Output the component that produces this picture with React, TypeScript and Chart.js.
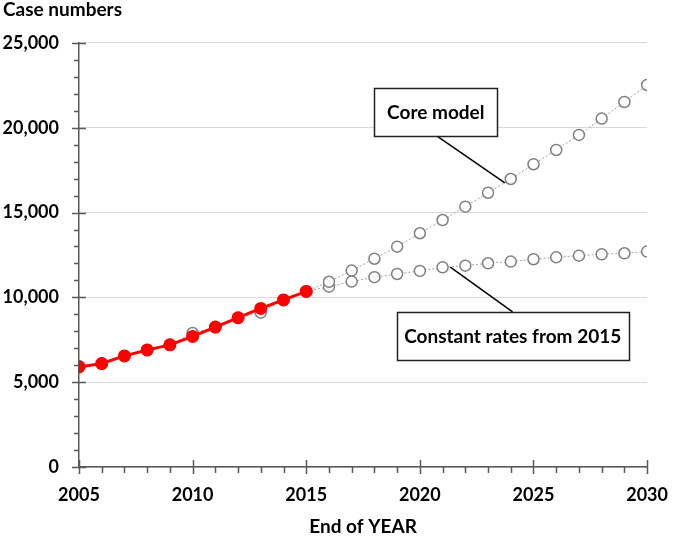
import React, { useEffect, useRef } from "react";
import { Chart, registerables } from "chart.js";

Chart.register(...registerables);

const observedYears = [2005, 2006, 2007, 2008, 2009, 2010, 2011, 2012, 2013, 2014, 2015];
const observedValues = [5900, 6100, 6550, 6900, 7200, 7700, 8250, 8800, 9350, 9850, 10350];

const coreYears = [2005, 2006, 2007, 2008, 2009, 2010, 2011, 2012, 2013, 2014, 2015, 2016, 2017, 2018, 2019, 2020, 2021, 2022, 2023, 2024, 2025, 2026, 2027, 2028, 2029, 2030];
const coreValues = [5950, 6100, 6550, 6900, 7200, 7900, 8250, 8800, 9100, 9850, 10350, 10920, 11580, 12280, 12990, 13780, 14560, 15350, 16170, 16980, 17850, 18690, 19580, 20540, 21520, 22520];

const constantYears = [2015, 2016, 2017, 2018, 2019, 2020, 2021, 2022, 2023, 2024, 2025, 2026, 2027, 2028, 2029, 2030];
const constantValues = [10350, 10630, 10930, 11190, 11380, 11560, 11770, 11870, 12010, 12110, 12250, 12360, 12460, 12540, 12600, 12700];

const yTickStep = 5000;
const xTickStep = 5;

const FONT = "Lato, 'Open Sans', 'DejaVu Sans', sans-serif";

const annotations = [
  { text: "Core model", box: [2018.0, 22350, 2023.4, 19520], from: [2020.74, 19520], to: [2023.74, 16745] },
  { text: "Constant rates from 2015", box: [2018.98, 9140, 2029.19, 6310], from: [2024.08, 9140], to: [2021.34, 11790] },
];

const toPoints = (xs: number[], ys: number[]) => xs.map((x, i) => ({ x, y: ys[i] }));

const tickMarksPlugin = {
  id: "tickMarks",
  afterDraw(chart: any) {
    const { ctx, scales } = chart;
    const xs = scales.x;
    const ys = scales.y;
    const area = chart.chartArea;
    ctx.save();
    ctx.strokeStyle = "#595959";
    ctx.lineWidth = 1.5;
    ctx.beginPath();
    for (let v = ys.min; v <= ys.max; v += 1000) {
      const y = Math.round(ys.getPixelForValue(v)) + 0.5;
      const major = v % yTickStep === 0;
      ctx.moveTo(area.left - (major ? 7 : 5), y);
      ctx.lineTo(area.left + (major ? 7 : 0), y);
    }
    for (let v = xs.min; v <= xs.max; v += 1) {
      const x = Math.round(xs.getPixelForValue(v)) + 0.5;
      const major = (v - xs.min) % xTickStep === 0;
      ctx.moveTo(x, area.bottom - (major ? 7 : 0));
      ctx.lineTo(x, area.bottom + (major ? 7 : 6));
    }
    ctx.stroke();
    ctx.restore();
  },
};

const annotationPlugin = {
  id: "boxAnnotations",
  afterDatasetsDraw(chart: any) {
    const { ctx, scales } = chart;
    const xs = scales.x;
    const ys = scales.y;
    ctx.save();
    for (const a of annotations) {
      ctx.strokeStyle = "#000";
      ctx.lineWidth = 1.5;
      ctx.beginPath();
      ctx.moveTo(xs.getPixelForValue(a.from[0]), ys.getPixelForValue(a.from[1]));
      ctx.lineTo(xs.getPixelForValue(a.to[0]), ys.getPixelForValue(a.to[1]));
      ctx.stroke();
      const x1 = xs.getPixelForValue(a.box[0]);
      const y1 = ys.getPixelForValue(a.box[1]);
      const x2 = xs.getPixelForValue(a.box[2]);
      const y2 = ys.getPixelForValue(a.box[3]);
      ctx.fillStyle = "#fff";
      ctx.fillRect(x1, y1, x2 - x1, y2 - y1);
      ctx.strokeStyle = "#222";
      ctx.strokeRect(Math.round(x1) + 0.5, Math.round(y1) + 0.5, Math.round(x2 - x1), Math.round(y2 - y1));
      ctx.fillStyle = "#000";
      ctx.font = `bold 19px ${FONT}`;
      ctx.textAlign = "center";
      ctx.textBaseline = "middle";
      ctx.fillText(a.text, (x1 + x2) / 2, (y1 + y2) / 2 + 1);
    }
    ctx.restore();
  },
};

export default function App() {
  const canvasRef = useRef<HTMLCanvasElement | null>(null);

  useEffect(() => {
    if (!canvasRef.current) return;
    const chart = new Chart(canvasRef.current, {
      type: "line",
      data: {
        datasets: [
          {
            label: "Observed",
            data: toPoints(observedYears, observedValues),
            borderColor: "#ff0000",
            backgroundColor: "#ff0000",
            borderWidth: 3,
            pointRadius: 6.5,
            pointBackgroundColor: "#ff0000",
            pointBorderColor: "#ff0000",
            pointBorderWidth: 0,
            tension: 0,
          },
          {
            label: "Core model",
            data: toPoints(coreYears, coreValues),
            borderColor: "#a0a0a0",
            borderWidth: 1,
            borderDash: [2, 2],
            pointRadius: 5.5,
            pointBackgroundColor: "#ffffff",
            pointBorderColor: "#7f7f7f",
            pointBorderWidth: 1.5,
            tension: 0,
          },
          {
            label: "Constant rates from 2015",
            data: toPoints(constantYears, constantValues),
            borderColor: "#a0a0a0",
            borderWidth: 1,
            borderDash: [2, 2],
            pointRadius: 5.5,
            pointBackgroundColor: "#ffffff",
            pointBorderColor: "#7f7f7f",
            pointBorderWidth: 1.5,
            tension: 0,
          },
        ],
      },
      options: {
        animation: false,
        responsive: false,
        maintainAspectRatio: false,
        layout: { padding: { left: 3, right: 23, top: 0, bottom: 0 } },
        plugins: {
          legend: { display: false },
          tooltip: { enabled: false },
          title: {
            display: true,
            text: "Case numbers",
            align: "start",
            color: "#000",
            font: { family: FONT, size: 19, weight: "bold", lineHeight: 1.05 },
            padding: { top: 0, bottom: 23 },
          },
        },
        scales: {
          x: {
            type: "linear",
            min: 2005,
            max: 2030,
            afterFit: (scale: any) => {
              scale.height = 77;
            },
            ticks: {
              stepSize: xTickStep,
              padding: 17,
              color: "#000",
              font: { family: FONT, size: 18, weight: "bold" },
              callback: (v: any) => String(v),
              maxRotation: 0,
            },
            grid: { display: false, drawTicks: false },
            border: { display: true, color: "#595959", width: 1.5 },
            title: {
              display: true,
              text: "End of YEAR",
              color: "#000",
              font: { family: FONT, size: 19, weight: "bold" },
              padding: { top: 0, bottom: 5.6 },
            },
          },
          y: {
            type: "linear",
            min: 0,
            max: 25000,
            afterFit: (scale: any) => {
              scale.width = 76;
            },
            ticks: {
              stepSize: yTickStep,
              padding: 20,
              color: "#000",
              font: { family: FONT, size: 18, weight: "bold" },
              callback: (v: any) => Number(v).toLocaleString("en-US"),
            },
            grid: {
              display: true,
              drawTicks: false,
              color: "#b0b0b0",
              lineWidth: 1,
            },
            border: { display: true, color: "#595959", width: 1.5, dash: [1, 1] },
          },
        },
      },
      plugins: [tickMarksPlugin, annotationPlugin],
    });
    return () => chart.destroy();
  }, []);

  return (
    <div style={{ position: "fixed", left: 0, top: 0, width: 685, height: 544, background: "#fff" }}>
      <canvas ref={canvasRef} width={685} height={544} style={{ width: 685, height: 544 }} />
    </div>
  );
}
